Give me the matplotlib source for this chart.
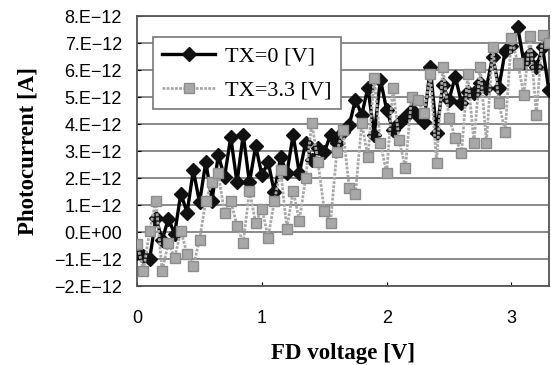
import numpy as np
import matplotlib
matplotlib.use('Agg')
import matplotlib.pyplot as plt

# FD voltage sweep [V]
fd_voltage = [
    0.00, 0.05, 0.10, 0.15, 0.20, 0.25, 0.30, 0.35, 0.40, 0.45,
    0.50, 0.55, 0.60, 0.65, 0.70, 0.75, 0.80, 0.85, 0.90, 0.95,
    1.00, 1.05, 1.10, 1.15, 1.20, 1.25, 1.30, 1.35, 1.40, 1.45,
    1.50, 1.55, 1.60, 1.65, 1.70, 1.75, 1.80, 1.85, 1.90, 1.95,
    2.00, 2.05, 2.10, 2.15, 2.20, 2.25, 2.30, 2.35, 2.40, 2.45,
    2.50, 2.55, 2.60, 2.65, 2.70, 2.75, 2.80, 2.85, 2.90, 2.95,
    3.00, 3.05, 3.10, 3.15, 3.20, 3.25, 3.30,
]

# photocurrent in units of 1e-12 A
tx0 = [
    -0.77, -0.88, -1.00, 0.54, -0.30, 0.50, -0.06, 1.43, 0.72, 2.29,
    1.10, 2.60, 1.17, 2.85, 2.03, 3.52, 1.84, 3.60, 1.84, 3.19,
    2.10, 2.60, 1.47, 2.78, 2.18, 3.60, 2.18, 3.30, 2.66, 3.10,
    2.96, 3.60, 3.30, 3.70, 3.97, 4.90, 4.34, 5.35, 3.60, 5.65,
    4.53, 3.78, 4.04, 4.27, 4.53, 4.30, 4.08, 6.10, 3.67, 5.43,
    4.90, 5.76, 4.79, 5.20, 5.16, 5.54, 5.35, 6.50, 5.35, 6.70,
    6.90, 7.60, 6.30, 6.60, 6.10, 6.84, 5.28,
]
tx33 = [
    -0.43, -1.44, 0.05, 1.17, -1.44, -0.40, -0.96, 0.05, -0.80, -1.25,
    -0.28, 1.17, 1.84, 2.18, 0.72, 1.17, 0.24, -0.40, 1.54, 0.35,
    0.87, -0.20, 1.17, 2.29, 0.13, 1.54, 0.43, 1.99, 4.04, 2.59,
    0.80, 0.35, 2.96, 3.78, 1.62, 1.43, 4.04, 2.78, 5.72, 3.30,
    2.18, 5.35, 3.41, 2.37, 5.00, 4.90, 4.40, 5.84, 2.55, 6.10,
    4.23, 3.50, 2.93, 5.84, 3.30, 6.13, 3.30, 6.84, 4.79, 3.71,
    7.20, 6.28, 5.09, 7.25, 4.34, 7.30, 7.00,
]

y_ticks = [-2, -1, 0, 1, 2, 3, 4, 5, 6, 7, 8]
y_tick_labels = ['\u22122.E\u221212', '\u22121.E\u221212', '0.E+00', '1.E\u221212',
                 '2.E\u221212', '3.E\u221212', '4.E\u221212', '5.E\u221212',
                 '6.E\u221212', '7.E\u221212', '8.E\u221212']
x_ticks = [0, 1, 2, 3]

fig = plt.figure(figsize=(5.51, 3.65), dpi=100)
ax = fig.add_axes([0.249, 0.216, 0.747, 0.74])

x = np.array(fd_voltage)
ax.plot(x, np.array(tx0) * 1e-12, color='black', lw=2.4, marker='D', ms=7,
        mfc='#111111', mec='#111111', label='TX=0 [V]', zorder=3)
ax.plot(x, np.array(tx33) * 1e-12, color='#a8a8a8', lw=2.0, ls=(0, (1, 0.5)),
        marker='s', ms=6.5, mfc='#a8a8a8', mec='#8c8c8c', label='TX=3.3 [V]', zorder=4)

ax.set_xlim(0, 3.3)
ax.set_ylim(-2e-12, 8e-12)
ax.set_yticks(np.array(y_ticks) * 1e-12)
ax.set_yticklabels(y_tick_labels, family='Liberation Sans', fontsize=13)
ax.set_xticks(x_ticks)
ax.set_xticklabels([str(t) for t in x_ticks], family='Liberation Sans', fontsize=13)
ax.tick_params(axis='y', length=3, direction='in', pad=11)
ax.tick_params(axis='x', length=3, direction='in', pad=17)
ax.yaxis.grid(True, color='#808080', lw=1.3)
ax.set_axisbelow(True)
for s in ax.spines.values():
    s.set_color('#555555')
    s.set_linewidth(1.3)

ax.set_xlabel('FD voltage [V]', family='Liberation Serif', fontweight='bold', fontsize=16.5, labelpad=12)
ax.set_ylabel('Photocurrent [A]', family='Liberation Serif', fontweight='bold', fontsize=16.5, labelpad=11)

leg = ax.legend(loc='upper left', bbox_to_anchor=(0.039, 0.922), prop={'family': 'Liberation Serif', 'size': 16},
                fancybox=False, framealpha=1, edgecolor='#777777', handlelength=2.4,
                borderpad=0.4, labelspacing=0.6, handletextpad=0.45, borderaxespad=0)
leg.get_frame().set_linewidth(1.2)

fig.savefig('out.png', dpi=100)
